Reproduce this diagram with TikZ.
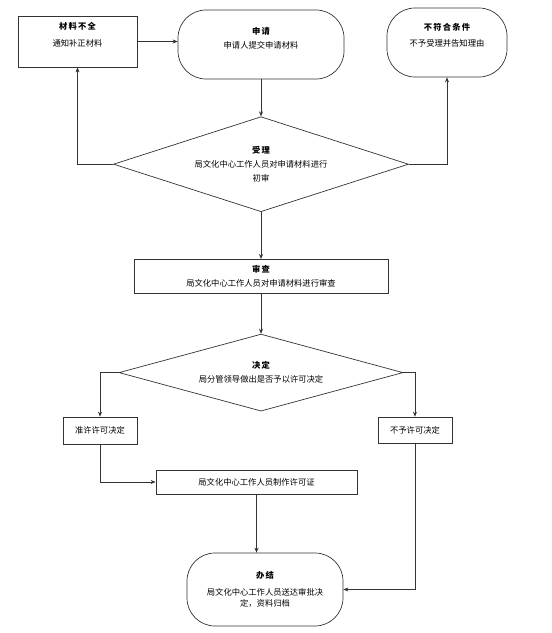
\documentclass[tikz,border=0pt]{standalone}
\usepackage{fontspec}
\setmainfont{Noto Sans CJK SC}
\usetikzlibrary{arrows.meta, positioning, shapes.geometric}
\newcommand{\steptitle}[1]{{\bfseries\addfontfeature{LetterSpace=15}#1}}

\begin{document}
\begin{tikzpicture}[x=1pt,y=-1pt,>={Stealth[length=5pt,width=4pt]},font=\fontsize{8.3}{14}\selectfont]
        \tikzstyle{proc}=[rectangle,draw=black!80,line width=0.7pt,align=center,inner sep=0pt]
        \tikzstyle{term}=[proc,rounded corners=28pt]
        \tikzstyle{decision}=[diamond,aspect=3,draw=black!80,line width=0.7pt,align=center,inner sep=0pt]
        \tikzstyle{txt}=[align=center,inner sep=0pt]
        \tikzstyle{link}=[->,draw=black!80,line width=0.7pt]
        \useasboundingbox (0,0) rectangle (552,633);
        % top row
        \node[term,minimum width=166pt,minimum height=69pt,label={[txt,yshift=6.5pt]center:{\steptitle{申请}\\申请人提交申请材料}}] (apply) at (261,44.5) {};
        \node[proc,minimum width=119pt,minimum height=51pt,label={[txt,yshift=7pt]center:{\steptitle{材料不全}\\[3pt]通知补正材料}}] (lack) at (77.5,41.5) {};
        \node[term,minimum width=120pt,minimum height=69pt,label={[txt,yshift=7.5pt]center:{\steptitle{不符合条件}\\[2pt]不予受理并告知理由}}] (reject) at (447,42.5) {};
        % middle column
        \node[decision,minimum width=295pt,minimum height=95pt,below=37pt of apply] (accept) {\steptitle{受理}\\局文化中心工作人员对申请材料进行\\初审};
        \node[proc,minimum width=254pt,minimum height=34pt,below=47pt of accept] (review) {\steptitle{审查}\\局文化中心工作人员对申请材料进行审查};
        \node[decision,minimum width=284pt,minimum height=77pt,below=40pt of review] (decide) {\steptitle{决定}\\局分管领导做出是否予以许可决定};
        % results
        \node[proc,minimum width=74pt,minimum height=27pt] (grant) at (100,430.5) {准许许可决定};
        \node[proc,minimum width=74pt,minimum height=26pt] (deny) at (415,430) {不予许可决定};
        \node[proc,minimum width=201pt,minimum height=24pt] (make) at (256.5,482) {局文化中心工作人员制作许可证};
        \node[term,minimum width=156pt,minimum height=73pt] (finish) at (265,589.5) {\steptitle{办结}\\[3pt]局文化中心工作人员送达审批决\\[-3pt]定，资料归档};
        % connectors
        \draw[link] (lack.east) -- (lack.east -| apply.west);
        \draw[link] (apply) -- (accept);
        \draw[link] (accept.west) -| (lack.south);
        \draw[link] (accept.east) -| (reject.south);
        \draw[link] (accept) -- (review);
        \draw[link] (review) -- (decide);
        \draw[link] (decide.west) -| (grant.north);
        \draw[link] (decide.east) -| (deny.north);
        \draw[link] (grant.south) |- (make.west);
        \draw[link] (make.south) -- (make.south |- finish.north);
        \draw[link] (deny.south) |- (finish.east);
\end{tikzpicture}
\end{document}
